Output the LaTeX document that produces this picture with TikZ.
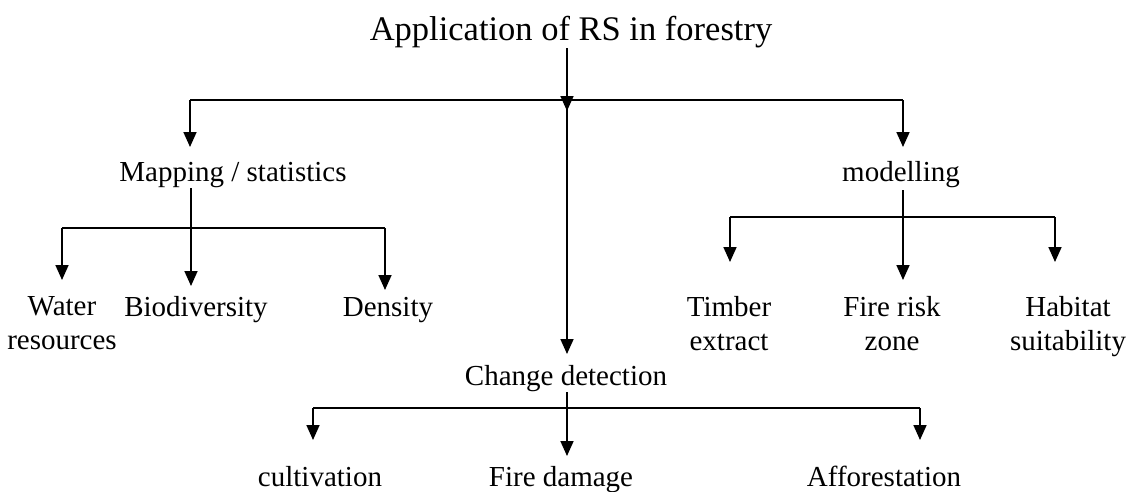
\documentclass[tikz,border=0pt]{standalone}
\usepackage{fontspec}
\setmainfont{Liberation Serif}
\usetikzlibrary{arrows.meta}
\begin{document}
\begin{tikzpicture}[x=1pt,y=-1pt,line width=1.7pt,
  lbl/.style={inner sep=0pt,font=\fontsize{29}{34}\selectfont,align=center},
  ttl/.style={inner sep=0pt,font=\fontsize{34.5}{40}\selectfont},
  arr/.style={-{Triangle[width=13pt,length=15pt]}}]
\useasboundingbox (0,0) rectangle (1136,491);
% nodes
\node[ttl,anchor=base] (root) at (571,40) {Application of RS in forestry};
\node[lbl,anchor=base] (map) at (233,181) {Mapping / statistics};
\node[lbl,anchor=base] (mod) at (901,181) {modelling};
\node[lbl,anchor=base] (cd) at (566,385) {Change detection};
\node[lbl,anchor=north] (water) at (62,296) {Water\\resources};
\node[lbl,anchor=base] (bio) at (196,316) {Biodiversity};
\node[lbl,anchor=base] (dens) at (388,316) {Density};
\node[lbl,anchor=north] (timber) at (729,296) {Timber\\extract};
\node[lbl,anchor=north] (fire) at (892,296) {Fire risk\\zone};
\node[lbl,anchor=north] (hab) at (1068,296) {Habitat\\suitability};
\node[lbl,anchor=base] (cult) at (320,486) {cultivation};
\node[lbl,anchor=base] (fdam) at (561,486) {Fire damage};
\node[lbl,anchor=base] (aff) at (884,486) {Afforestation};
% junctions
\coordinate (j0) at (567,100);
\coordinate (j0tip) at (567,111);
\coordinate (jL) at (190,100);
\coordinate (jR) at (903,100);
\coordinate (tMap) at (190,147);
\coordinate (tMod) at (903,147);
\coordinate (tCD) at (567,354);
\coordinate (mTop) at (191,188);
\coordinate (mJ) at (191,228);
\coordinate (mW) at (62,228);
\coordinate (mD) at (385,228);
\coordinate (tW) at (62,280);
\coordinate (tB) at (191,286);
\coordinate (tD) at (385,290);
\coordinate (oTop) at (903,190);
\coordinate (oJ) at (903,217);
\coordinate (oT) at (730,217);
\coordinate (oH) at (1055,217);
\coordinate (tT) at (730,262);
\coordinate (tF) at (903,280);
\coordinate (tH) at (1055,262);
\coordinate (cTop) at (567,392);
\coordinate (cJ) at (567,408);
\coordinate (cC) at (313,408);
\coordinate (cA) at (920,408);
\coordinate (tC) at (313,440);
\coordinate (tFd) at (567,456);
\coordinate (tA) at (920,440);
% connectors
\draw[arr] (root.south -| j0) -- (j0tip);
\draw (jL) -- (jR);
\draw[arr] (jL) -- (tMap);
\draw[arr] (jR) -- (tMod);
\draw[arr] (j0) -- (tCD);
\draw (mTop) -- (mJ);
\draw (mW) -- (mD);
\draw[arr] (mW) -- (tW);
\draw[arr] (mJ) -- (tB);
\draw[arr] (mD) -- (tD);
\draw[arr] (oTop) -- (tF);
\draw (oT) -- (oH);
\draw[arr] (oT) -- (tT);
\draw[arr] (oH) -- (tH);
\draw[arr] (cTop) -- (tFd);
\draw (cC) -- (cA);
\draw[arr] (cC) -- (tC);
\draw[arr] (cA) -- (tA);
\end{tikzpicture}
\end{document}
